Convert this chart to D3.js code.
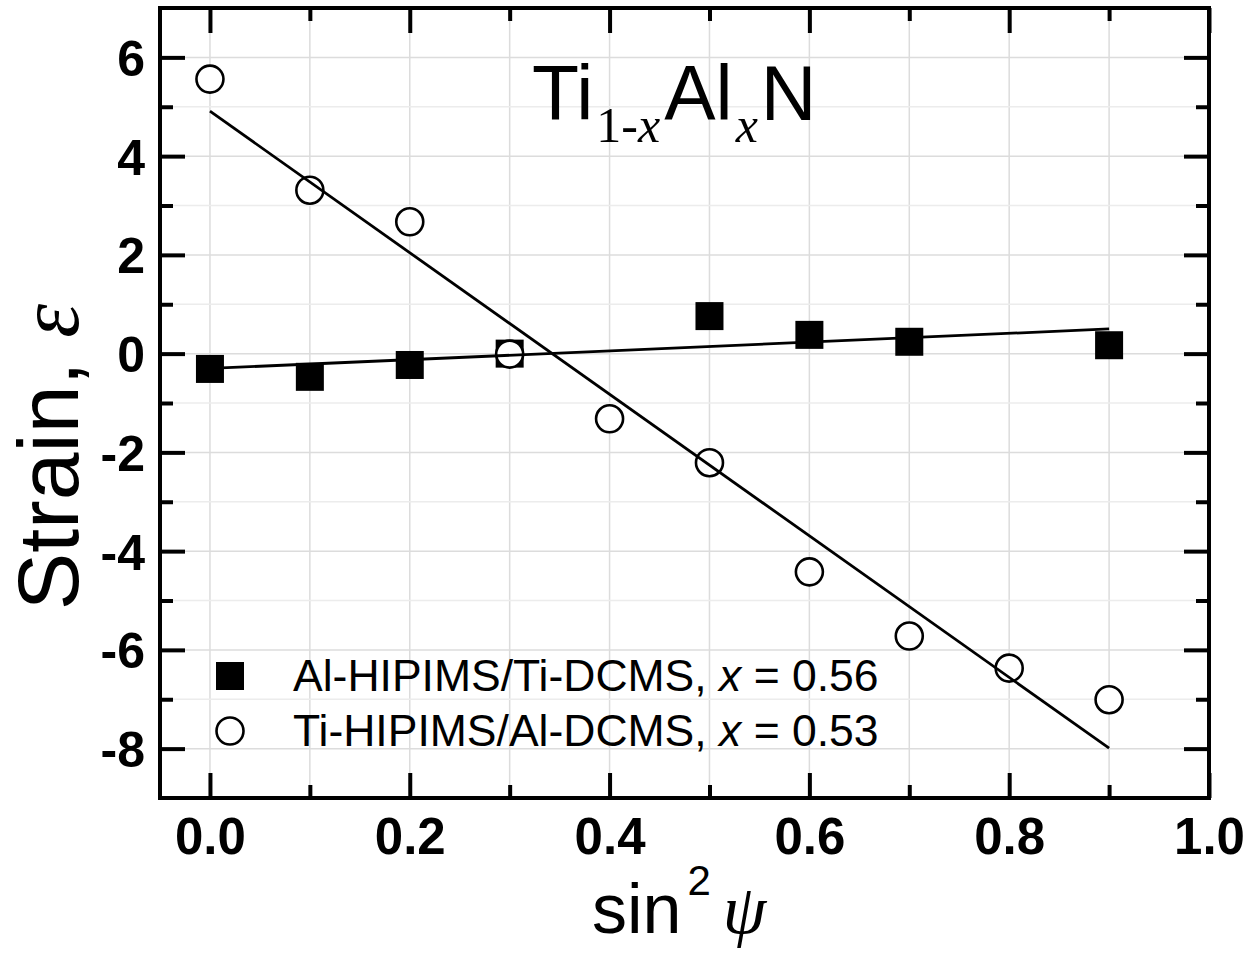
<!DOCTYPE html>
<html><head><meta charset="utf-8">
<script src="https://cdn.jsdelivr.net/npm/d3@7"></script>
<style>body{margin:0;background:#fff}svg{display:block}</style>
</head><body>
<svg id="chart" width="1253" height="953"></svg>
<script>
// ---- data ----
const sqX = [0.0, 0.1, 0.2, 0.3, 0.5, 0.6, 0.7, 0.9];
const sqY = [-0.31, -0.47, -0.23, 0.0, 0.76, 0.38, 0.24, 0.17];
const ciX = [0.0, 0.1, 0.2, 0.3, 0.4, 0.5, 0.6, 0.7, 0.8, 0.9];
const ciY = [5.56, 3.31, 2.67, -0.01, -1.32, -2.21, -4.42, -5.72, -6.37, -7.01];
const sqFitX = [0.0, 0.9];
const sqFitY = [-0.30, 0.50];
const ciFitX = [0.0, 0.9];
const ciFitY = [4.91, -7.99];
const xTicks = [0.0, 0.2, 0.4, 0.6, 0.8, 1.0];
const xMinor = [0.1, 0.3, 0.5, 0.7, 0.9];
const yTicks = [-8, -6, -4, -2, 0, 2, 4, 6];
const yMinor = [-7, -5, -3, -1, 1, 3, 5];
const legendLabels = ["Al-HIPIMS/Ti-DCMS, ", "Ti-HIPIMS/Al-DCMS, "];
const legendX = ["0.56", "0.53"];

const svg = d3.select("#chart");
const L = 160, R = 1209, T = 8, B = 798;
const x = d3.scaleLinear().domain([-0.05, 1.0]).range([L, R]);
const y = d3.scaleLinear().domain([-9, 7]).range([B, T]);
const sans = "Arial, 'Liberation Sans', sans-serif";
const serif = "'Times New Roman', 'Liberation Serif', serif";

// grid
const g = svg.append("g");
d3.range(0, 10).map(i => i / 10).forEach(v => {
  g.append("line").attr("x1", x(v)).attr("x2", x(v)).attr("y1", T).attr("y2", B)
    .attr("stroke", "#dcdcdc").attr("stroke-width", 1.5);
});
d3.range(-8, 7).forEach(v => {
  g.append("line").attr("x1", L).attr("x2", R).attr("y1", y(v)).attr("y2", y(v))
    .attr("stroke", v % 2 === 0 ? "#dcdcdc" : "#ececec").attr("stroke-width", 1.5);
});

// markers: squares
svg.append("g").selectAll("rect").data(sqX).join("rect")
  .attr("x", (d) => x(d) - 14).attr("y", (d, i) => y(sqY[i]) - 14)
  .attr("width", 28).attr("height", 28).attr("fill", "#000");
// circles
svg.append("g").selectAll("circle").data(ciX).join("circle")
  .attr("cx", d => x(d)).attr("cy", (d, i) => y(ciY[i])).attr("r", 13.5)
  .attr("fill", "#fff").attr("stroke", "#000").attr("stroke-width", 2.6);

// fit lines
const line = d3.line().x(d => x(d[0])).y(d => y(d[1]));
svg.append("path").attr("d", line(sqFitX.map((v, i) => [v, sqFitY[i]])))
  .attr("fill", "none").attr("stroke", "#000").attr("stroke-width", 2.8);
svg.append("path").attr("d", line(ciFitX.map((v, i) => [v, ciFitY[i]])))
  .attr("fill", "none").attr("stroke", "#000").attr("stroke-width", 2.8);

// axes
function styleAxis(sel) {
  sel.select(".domain").remove();
  sel.selectAll(".tick line").attr("stroke", "#000").attr("stroke-width", 4);
}
const xb = svg.append("g").attr("transform", `translate(0,${B})`)
  .call(d3.axisBottom(x).tickValues(xTicks).tickSize(-25).tickPadding(20).tickFormat(d3.format(".1f")));
styleAxis(xb);
xb.selectAll("text").attr("font-family", sans).attr("font-weight", "bold").attr("font-size", 51).attr("fill", "#000").attr("dy", "0.71em");
const xbm = svg.append("g").attr("transform", `translate(0,${B})`)
  .call(d3.axisBottom(x).tickValues(xMinor).tickSize(-13).tickFormat(""));
styleAxis(xbm);
const xt = svg.append("g").attr("transform", `translate(0,${T})`)
  .call(d3.axisTop(x).tickValues(xTicks).tickSize(-25).tickFormat(""));
styleAxis(xt);
const xtm = svg.append("g").attr("transform", `translate(0,${T})`)
  .call(d3.axisTop(x).tickValues(xMinor).tickSize(-13).tickFormat(""));
styleAxis(xtm);

const yl = svg.append("g").attr("transform", `translate(${L},0)`)
  .call(d3.axisLeft(y).tickValues(yTicks).tickSize(-25).tickPadding(15).tickFormat(d => String(d)));
styleAxis(yl);
yl.selectAll("text").attr("font-family", sans).attr("font-weight", "bold").attr("font-size", 50).attr("fill", "#000").attr("dy", "0.36em");
const ylm = svg.append("g").attr("transform", `translate(${L},0)`)
  .call(d3.axisLeft(y).tickValues(yMinor).tickSize(-13).tickFormat(""));
styleAxis(ylm);
const yr = svg.append("g").attr("transform", `translate(${R},0)`)
  .call(d3.axisRight(y).tickValues(yTicks).tickSize(-25).tickFormat(""));
styleAxis(yr);
const yrm = svg.append("g").attr("transform", `translate(${R},0)`)
  .call(d3.axisRight(y).tickValues(yMinor).tickSize(-13).tickFormat(""));
styleAxis(yrm);

// frame
svg.append("rect").attr("x", L).attr("y", T).attr("width", R - L).attr("height", B - T)
  .attr("fill", "none").attr("stroke", "#000").attr("stroke-width", 4);

// title Ti(1-x)Al(x)N
const title = svg.append("text").attr("x", 532).attr("y", 120).attr("font-family", sans).attr("font-size", 77).attr("fill", "#000");
title.append("tspan").text("Ti");
title.append("tspan").attr("font-family", serif).attr("font-size", 50).attr("dy", 22).attr("dx", 3).text("1-");
title.append("tspan").attr("font-family", serif).attr("font-size", 50).attr("font-style", "italic").text("x");
title.append("tspan").attr("dy", -22).attr("dx", 4).text("Al");
title.append("tspan").attr("font-family", serif).attr("font-size", 50).attr("font-style", "italic").attr("dy", 22).attr("dx", 3).text("x");
title.append("tspan").attr("dy", -22).attr("dx", 3).text("N");

// y axis title
const yt = svg.append("text").attr("transform", "translate(78,457) rotate(-90)")
  .attr("text-anchor", "middle").attr("font-family", sans).attr("font-size", 86).attr("fill", "#000");
yt.append("tspan").text("Strain, ");
yt.append("tspan").attr("font-family", serif).attr("font-style", "italic").text("ε");

// x axis title
const xtt = svg.append("text").attr("x", 592).attr("y", 933).attr("font-family", sans).attr("font-size", 70).attr("fill", "#000");
xtt.append("tspan").text("sin");
xtt.append("tspan").attr("font-size", 42).attr("dy", -38).attr("dx", 6).text("2");
xtt.append("tspan").attr("font-family", serif).attr("font-style", "italic").attr("font-size", 70).attr("dy", 38).attr("dx", 12).text("ψ");

// legend
const lg = svg.append("g");
lg.append("rect").attr("x", 230 - 14).attr("y", 676 - 14).attr("width", 28).attr("height", 28).attr("fill", "#000");
lg.append("circle").attr("cx", 230).attr("cy", 731).attr("r", 13.5).attr("fill", "#fff").attr("stroke", "#000").attr("stroke-width", 2.6);
legendLabels.forEach((lab, i) => {
  const t = lg.append("text").attr("x", 293).attr("y", 691 + i * 55).attr("font-family", sans).attr("font-size", 44.5).attr("fill", "#000");
  t.append("tspan").text(lab);
  t.append("tspan").attr("font-style", "italic").text("x");
  t.append("tspan").text(" = " + legendX[i]);
});
</script>
</body></html>
